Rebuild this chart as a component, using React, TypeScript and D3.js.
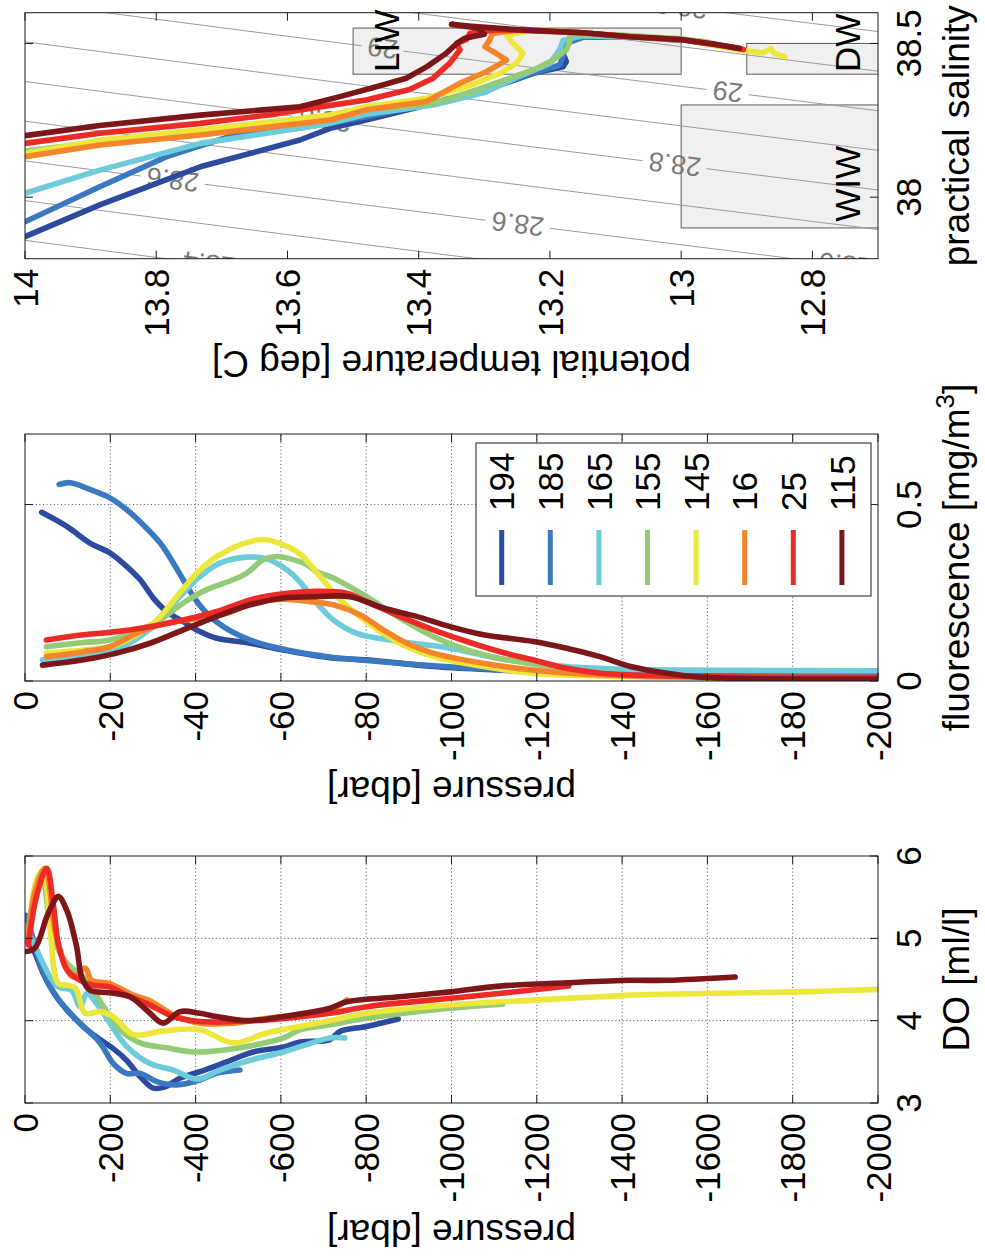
import React from "react";
import * as d3 from "d3";

type Pt = [number, number];

// Original (landscape) figure size; the page shows it rotated 90 deg counter-clockwise.
const FIG_W = 1258;
const FIG_H = 985;

const profileIds = ["194", "185", "165", "155", "145", "16", "25", "115"];
const profileColors = ["#2C4B9F", "#3A78C0", "#6ECCDA", "#93CB76", "#ECE73A", "#F5852A", "#EC2A26", "#7C1619"];

// ---- Dissolved oxygen: [pressure dbar, DO ml/l]
const do194: Pt[] = [[-2, 5.0], [-20, 4.86], [-43, 4.57], [-74, 4.29], [-106, 4.09], [-145, 3.89], [-176, 3.77], [-207, 3.66], [-238, 3.52], [-270, 3.32], [-301, 3.18], [-330, 3.2], [-363, 3.3], [-410, 3.38], [-473, 3.5], [-535, 3.62], [-606, 3.68], [-645, 3.74], [-715, 3.77], [-739, 3.87], [-801, 3.93], [-875, 4.02]];
const do185: Pt[] = [[-2, 5.28], [-20, 4.98], [-35, 4.7], [-59, 4.41], [-98, 4.13], [-137, 3.93], [-176, 3.73], [-207, 3.48], [-238, 3.36], [-270, 3.36], [-309, 3.26], [-356, 3.22], [-410, 3.28], [-449, 3.36], [-504, 3.4]];
const do165: Pt[] = [[-2, 5.13], [-20, 4.95], [-40, 4.72], [-59, 4.53], [-78, 4.41], [-109, 4.37], [-129, 4.17], [-145, 4.33], [-168, 4.21], [-199, 3.97], [-238, 3.69], [-293, 3.48], [-348, 3.4], [-403, 3.29], [-457, 3.4], [-528, 3.52], [-606, 3.62], [-715, 3.79], [-750, 3.79]];
const do155: Pt[] = [[-3, 4.95], [-25, 5.5], [-42, 5.72], [-55, 5.3], [-75, 4.9], [-98, 4.7], [-145, 4.49], [-184, 4.17], [-223, 3.89], [-270, 3.73], [-332, 3.67], [-395, 3.62], [-488, 3.66], [-606, 3.79], [-645, 3.89], [-715, 3.95], [-801, 4.03], [-996, 4.15], [-1120, 4.2]];
const do145: Pt[] = [[-8, 4.94], [-27, 5.71], [-43, 5.83], [-59, 5.1], [-78, 4.45], [-98, 4.43], [-118, 4.4], [-141, 4.09], [-176, 4.11], [-207, 4.05], [-254, 3.83], [-317, 3.87], [-410, 3.89], [-488, 3.73], [-567, 3.85], [-645, 3.93], [-715, 4.0], [-801, 4.09], [-996, 4.19], [-1192, 4.25], [-1348, 4.29], [-1418, 4.31], [-1583, 4.33], [-1817, 4.35], [-2000, 4.38]];
const do16: Pt[] = [[-5, 4.95], [-25, 5.6], [-47, 5.85], [-70, 5.1], [-90, 4.74], [-113, 4.53], [-141, 4.64], [-156, 4.49], [-199, 4.45], [-254, 4.31], [-290, 4.25], [-348, 4.07], [-410, 3.97], [-488, 3.97], [-567, 4.03], [-715, 4.13], [-754, 4.25]];
const do25: Pt[] = [[-8, 4.92], [-27, 5.51], [-51, 5.85], [-66, 5.43], [-78, 4.94], [-98, 4.62], [-129, 4.49], [-160, 4.43], [-199, 4.41], [-238, 4.31], [-285, 4.21], [-348, 4.05], [-410, 3.99], [-488, 3.99], [-567, 4.01], [-715, 4.09], [-801, 4.17], [-1035, 4.29], [-1275, 4.42]];
const do115: Pt[] = [[-2, 4.84], [-23, 4.88], [-51, 5.26], [-66, 5.43], [-78, 5.51], [-98, 5.34], [-121, 4.9], [-133, 4.53], [-152, 4.37], [-199, 4.34], [-246, 4.29], [-285, 4.13], [-324, 3.97], [-363, 4.11], [-410, 4.09], [-449, 4.05], [-520, 4.0], [-606, 4.05], [-715, 4.15], [-754, 4.23], [-879, 4.29], [-996, 4.35], [-1114, 4.42], [-1270, 4.46], [-1418, 4.49], [-1505, 4.49], [-1665, 4.53]];
const doProfiles = [do194, do185, do165, do155, do145, do16, do25, do115];

// ---- Fluorescence: [pressure dbar, fluorescence mg/m^3]
const fl194: Pt[] = [[-3.9, 0.478], [-9.8, 0.438], [-15.2, 0.391], [-19.9, 0.363], [-23.8, 0.325], [-27, 0.287], [-30.1, 0.235], [-33.2, 0.197], [-37.1, 0.168], [-41, 0.14], [-45, 0.121], [-52.8, 0.107], [-60.6, 0.088], [-71.5, 0.066], [-80.1, 0.06], [-95.7, 0.041], [-111, 0.031], [-127, 0.022], [-142, 0.017], [-160, 0.016], [-180, 0.015], [-200, 0.015]];
const fl185: Pt[] = [[-8, 0.557], [-10.6, 0.562], [-15.2, 0.543], [-19.9, 0.519], [-23.8, 0.486], [-27.7, 0.443], [-31.7, 0.391], [-34.8, 0.334], [-37.1, 0.287], [-39.5, 0.239], [-42.6, 0.192], [-46.5, 0.154], [-52.8, 0.116], [-60.6, 0.09], [-71.5, 0.068], [-80, 0.058], [-95.7, 0.043], [-111, 0.032], [-127, 0.024], [-142, 0.02], [-170, 0.018], [-200, 0.018]];
const fl165: Pt[] = [[-4.1, 0.06], [-13.7, 0.069], [-21.5, 0.088], [-27, 0.126], [-31.7, 0.173], [-36.3, 0.239], [-41, 0.296], [-45.7, 0.334], [-52, 0.351], [-56.7, 0.346], [-61.4, 0.315], [-64.5, 0.28], [-68.4, 0.221], [-72.3, 0.173], [-77.8, 0.135], [-87.9, 0.112], [-99.7, 0.093], [-111, 0.064], [-127, 0.041], [-142, 0.033], [-170, 0.03], [-200, 0.029]];
const fl155: Pt[] = [[-5, 0.097], [-13.7, 0.109], [-19.9, 0.116], [-27, 0.145], [-31.7, 0.173], [-37.1, 0.221], [-42.6, 0.259], [-48.8, 0.287], [-52, 0.306], [-55.9, 0.344], [-59, 0.353], [-62.9, 0.344], [-66, 0.33], [-68.4, 0.31], [-72.3, 0.292], [-80.1, 0.239], [-87.9, 0.178], [-95.7, 0.126], [-103.6, 0.088], [-111.4, 0.064], [-123, 0.041], [-135, 0.022], [-150, 0.012], [-200, 0.008]];
const fl145: Pt[] = [[-5, 0.079], [-13.7, 0.088], [-19.9, 0.097], [-25.4, 0.126], [-30.9, 0.173], [-35.6, 0.239], [-40.3, 0.306], [-45, 0.353], [-50.4, 0.386], [-55.9, 0.401], [-60.6, 0.386], [-64.5, 0.36], [-69.2, 0.296], [-73.9, 0.23], [-78.5, 0.183], [-84, 0.135], [-89.5, 0.097], [-95.7, 0.069], [-107.5, 0.041], [-119, 0.022], [-135, 0.014], [-160, 0.01], [-200, 0.009]];
const fl16: Pt[] = [[-5, 0.069], [-13.7, 0.083], [-19.9, 0.097], [-27, 0.14], [-33.2, 0.164], [-41, 0.178], [-47.3, 0.192], [-53.5, 0.221], [-60.6, 0.232], [-66.8, 0.225], [-72.3, 0.216], [-78.5, 0.188], [-84, 0.145], [-89.5, 0.107], [-95.7, 0.079], [-107.5, 0.05], [-119, 0.031], [-135, 0.017], [-150, 0.012], [-200, 0.01]];
const fl25: Pt[] = [[-5, 0.116], [-13.7, 0.131], [-21.5, 0.14], [-29.3, 0.154], [-37.1, 0.173], [-45, 0.197], [-52.8, 0.23], [-60.6, 0.247], [-68.4, 0.254], [-75.4, 0.249], [-80.1, 0.225], [-87.9, 0.183], [-95.7, 0.145], [-103.6, 0.112], [-111.4, 0.083], [-119, 0.06], [-127, 0.036], [-135, 0.022], [-142, 0.017], [-160, 0.012], [-200, 0.01]];
const fl115: Pt[] = [[-4.1, 0.045], [-13.7, 0.06], [-21.5, 0.079], [-29.3, 0.107], [-37.1, 0.145], [-45, 0.183], [-52.8, 0.216], [-60.6, 0.235], [-68.4, 0.239], [-76.2, 0.239], [-84, 0.207], [-91.8, 0.183], [-99.7, 0.154], [-107.5, 0.131], [-119.2, 0.112], [-127, 0.093], [-134.8, 0.069], [-142, 0.041], [-150.5, 0.022], [-158.3, 0.011], [-175, 0.006], [-200, 0.005]];
const flProfiles = [fl194, fl185, fl165, fl155, fl145, fl16, fl25, fl115];

// ---- T-S: [practical salinity, potential temperature]
const ts194: Pt[] = [[37.872, 14.0], [37.975, 13.886], [38.099, 13.733], [38.186, 13.581], [38.224, 13.535], [38.251, 13.48], [38.305, 13.378], [38.365, 13.276], [38.403, 13.225], [38.424, 13.18], [38.441, 13.175], [38.457, 13.178], [38.475, 13.186], [38.49, 13.18], [38.506, 13.18], [38.522, 13.15], [38.52, 13.06], [38.51, 13.0]];
const ts185: Pt[] = [[37.92, 14.0], [38.034, 13.886], [38.132, 13.784], [38.202, 13.682], [38.225, 13.58], [38.262, 13.48], [38.3, 13.39], [38.35, 13.3], [38.4, 13.23], [38.43, 13.185], [38.46, 13.18], [38.5, 13.175], [38.52, 13.15], [38.522, 13.08]];
const ts165: Pt[] = [[38.013, 14.0], [38.088, 13.886], [38.175, 13.733], [38.24, 13.535], [38.27, 13.48], [38.3, 13.378], [38.34, 13.3], [38.39, 13.25], [38.435, 13.2], [38.48, 13.185], [38.51, 13.18], [38.525, 13.15], [38.52, 13.08], [38.512, 13.0], [38.5, 12.95]];
const ts155: Pt[] = [[38.15, 14.0], [38.18, 13.886], [38.21, 13.733], [38.25, 13.56], [38.285, 13.48], [38.305, 13.378], [38.338, 13.327], [38.376, 13.276], [38.414, 13.225], [38.446, 13.195], [38.479, 13.175], [38.506, 13.17], [38.53, 13.17], [38.528, 13.1], [38.515, 13.0], [38.505, 12.96]];
const ts145: Pt[] = [[38.143, 14.0], [38.185, 13.886], [38.219, 13.733], [38.267, 13.535], [38.294, 13.48], [38.322, 13.388], [38.359, 13.327], [38.403, 13.276], [38.435, 13.251], [38.468, 13.241], [38.5, 13.256], [38.527, 13.266], [38.545, 13.22], [38.535, 13.15], [38.522, 13.078], [38.513, 13.0], [38.479, 12.911], [38.47, 12.875], [38.484, 12.863], [38.467, 12.858], [38.457, 12.842]];
const ts16: Pt[] = [[38.132, 14.0], [38.17, 13.886], [38.202, 13.733], [38.251, 13.535], [38.284, 13.48], [38.311, 13.388], [38.371, 13.337], [38.408, 13.297], [38.446, 13.266], [38.468, 13.282], [38.489, 13.299], [38.511, 13.292], [38.533, 13.287], [38.545, 13.24], [38.535, 13.15], [38.522, 13.078], [38.512, 13.0], [38.5, 12.96]];
const ts25: Pt[] = [[38.175, 14.0], [38.208, 13.886], [38.24, 13.733], [38.27, 13.62], [38.284, 13.581], [38.316, 13.48], [38.35, 13.414], [38.387, 13.378], [38.435, 13.353], [38.479, 13.337], [38.5, 13.342], [38.513, 13.327], [38.533, 13.322], [38.545, 13.28], [38.535, 13.15], [38.522, 13.078], [38.513, 13.0], [38.49, 12.93], [38.48, 12.905]];
const ts115: Pt[] = [[38.2, 14.0], [38.233, 13.886], [38.267, 13.733], [38.294, 13.581], [38.327, 13.52], [38.365, 13.455], [38.387, 13.419], [38.424, 13.388], [38.468, 13.358], [38.5, 13.342], [38.517, 13.33], [38.53, 13.3], [38.55, 13.31], [38.562, 13.35], [38.556, 13.32], [38.545, 13.25], [38.535, 13.15], [38.522, 13.078], [38.513, 13.002], [38.498, 12.95], [38.484, 12.911]];
const tsProfiles = [ts194, ts185, ts165, ts155, ts145, ts16, ts25, ts115];

// ---- Axis ticks
const doTicks = [3, 4, 5, 6];
const pressDOTicks = [0, -200, -400, -600, -800, -1000, -1200, -1400, -1600, -1800, -2000];
const fluorTicks = [0, 0.5];
const pressFlTicks = [0, -20, -40, -60, -80, -100, -120, -140, -160, -180, -200];
const salTicks = [38, 38.5];
const tempTicks = [12.8, 13, 13.2, 13.4, 13.6, 13.8, 14];

// ---- Isopycnals (sigma-theta) and their labels
const isoLevels = [28.2, 28.3, 28.4, 28.5, 28.6, 28.7, 28.8, 28.9, 29.0, 29.1, 29.2, 29.3, 29.4];
const isoLabels = [
  { level: 28.6, T: 13.775, text: "28.6" },
  { level: 28.6, T: 13.249, text: "28.6" },
  { level: 28.8, T: 13.543, text: "28.8" },
  { level: 28.8, T: 13.01, text: "28.8" },
  { level: 29.0, T: 13.455, text: "29" },
  { level: 29.0, T: 12.929, text: "29" },
  { level: 28.4, T: 13.72, text: "28.4" },
  { level: 29.2, T: 13.0, text: "29.2" },
  { level: 28.6, T: 12.75, text: "28.6" },
];

// ---- Water-mass boxes
const waterMasses = [
  { name: "LIW", s0: 38.4, s1: 38.55, t0: 13.0, t1: 13.5, ls: 38.407, lt: 13.43 },
  { name: "DW", s0: 38.4, s1: 38.5, t0: 12.5, t1: 12.9, ls: 38.407, lt: 12.727 },
  { name: "WIW", s0: 37.9, s1: 38.3, t0: 12.5, t1: 13.0, ls: 37.92, lt: 12.727 },
];

// UNESCO 1983 one-atmosphere density, minus 1000
function sigmaTheta(S: number, T: number) {
  const rw = 999.842594 + 6.793952e-2 * T - 9.09529e-3 * T * T + 1.001685e-4 * T ** 3 - 1.120083e-6 * T ** 4 + 6.536332e-9 * T ** 5;
  const A = 8.24493e-1 - 4.0899e-3 * T + 7.6438e-5 * T * T - 8.2467e-7 * T ** 3 + 5.3875e-9 * T ** 4;
  const B = -5.72466e-3 + 1.0227e-4 * T - 1.6546e-6 * T * T;
  const C = 4.8314e-4;
  return rw + A * S + B * Math.pow(S, 1.5) + C * S * S - 1000;
}
function salinityFor(level: number, T: number) {
  let lo = 35, hi = 41;
  for (let i = 0; i < 50; i++) {
    const m = (lo + hi) / 2;
    if (sigmaTheta(m, T) < level) lo = m; else hi = m;
  }
  return (lo + hi) / 2;
}

const FONT = "'Liberation Sans', Arial, Helvetica, sans-serif";
const TICK_FS = 35;
const LABEL_FS = 37;
const LW = 5.6;

function textWidth(s: string, fs: number) {
  let w = 0;
  for (const c of s) w += c === "." ? 0.278 : 0.556;
  return w * fs;
}

type Scale = d3.ScaleLinear<number, number>;

function Frame(props: {
  x0: number; x1: number; y0: number; y1: number;
  xs: Scale; ys: Scale; xt: number[]; yt: number[];
}) {
  const { x0, x1, y0, y1, xs, ys, xt, yt } = props;
  const tl = 8;
  const col = "#1a1a1a";
  return (
    <g>
      {xt.map((v, i) => {
        const x = xs(v);
        return (
          <g key={"xt" + i}>
            <line x1={x} x2={x} y1={y0} y2={y0 + tl} stroke={col} strokeWidth={1} />
            <line x1={x} x2={x} y1={y1} y2={y1 - tl} stroke={col} strokeWidth={1} />
            <text x={x} y={921} textAnchor="middle" fontSize={TICK_FS} fill="#000">{String(v)}</text>
          </g>
        );
      })}
      {yt.map((v, i) => {
        const y = ys(v);
        return (
          <g key={"yt" + i}>
            <line x1={x0} x2={x0 + tl} y1={y} y2={y} stroke={col} strokeWidth={1} />
            <line x1={x1} x2={x1 - tl} y1={y} y2={y} stroke={col} strokeWidth={1} />
            <text x={x0 - 10} y={y} dy="0.36em" textAnchor="end" fontSize={TICK_FS} fill="#000">{String(v)}</text>
          </g>
        );
      })}
      <rect x={x0} y={y0} width={x1 - x0} height={y1 - y0} fill="none" stroke={col} strokeWidth={1} />
    </g>
  );
}

function Grid(props: { x0: number; x1: number; y0: number; y1: number; xs: Scale; ys: Scale; xt: number[]; yt: number[] }) {
  const { x0, x1, y0, y1, xs, ys, xt, yt } = props;
  const inside = (p: number, a: number, b: number) => p > a + 1 && p < b - 1;
  return (
    <g stroke="#3a3a3a" strokeWidth={0.9} strokeDasharray="1,2.6">
      {xt.filter((v) => inside(xs(v), x0, x1)).map((v, i) => (
        <line key={"gx" + i} x1={xs(v)} x2={xs(v)} y1={y0} y2={y1} />
      ))}
      {yt.filter((v) => inside(ys(v), y0, y1)).map((v, i) => (
        <line key={"gy" + i} x1={x0} x2={x1} y1={ys(v)} y2={ys(v)} />
      ))}
    </g>
  );
}

export default function App() {
  const Y0 = 25, Y1 = 878;
  // DO panel
  const xDO = d3.scaleLinear().domain([3, 6]).range([155, 402]);
  const yDO = d3.scaleLinear().domain([0, -2000]).range([Y0, Y1]);
  // Fluorescence panel
  const xF = d3.scaleLinear().domain([0, 0.7]).range([577, 824]);
  const yF = d3.scaleLinear().domain([0, -200]).range([Y0, Y1]);
  // T-S panel
  const xS = d3.scaleLinear().domain([37.8, 38.6]).range([999.3, 1245.3]);
  const yT = d3.scaleLinear().domain([12.7, 14]).range([Y1, Y0]);

  const lineDO = d3.line<Pt>().x((d) => xDO(d[1])).y((d) => yDO(d[0])).curve(d3.curveCatmullRom.alpha(0.5));
  const lineF = d3.line<Pt>().x((d) => xF(d[1])).y((d) => yF(d[0])).curve(d3.curveCatmullRom.alpha(0.5));
  const lineTS = d3.line<Pt>().x((d) => xS(d[0])).y((d) => yT(d[1]));

  const tSamples = d3.range(12.4, 14.31, 0.05);
  const isoPaths = isoLevels.map((lv) => lineTS(tSamples.map((t) => [salinityFor(lv, t), t] as Pt)) || "");

  const labelGeo = isoLabels.map((l) => {
    const s = salinityFor(l.level, l.T);
    const a = [xS(salinityFor(l.level, l.T - 0.02)), yT(l.T - 0.02)];
    const b = [xS(salinityFor(l.level, l.T + 0.02)), yT(l.T + 0.02)];
    const ang = (Math.atan2(b[1] - a[1], b[0] - a[0]) * 180) / Math.PI;
    return { x: xS(s), y: yT(l.T), ang, text: l.text, w: textWidth(l.text, 27) + 12 };
  });

  const legX0 = 662, legX1 = 815, legY0 = 476, legY1 = 871;

  return (
    <svg width={985} height={1258} style={{ position: "absolute", left: 0, top: 0, background: "#fff" }} fontFamily={FONT}>
      <defs>
        <clipPath id="clipDO"><rect x={155} y={Y0} width={402 - 155} height={Y1 - Y0} /></clipPath>
        <clipPath id="clipF"><rect x={577} y={Y0} width={824 - 577} height={Y1 - Y0} /></clipPath>
        <clipPath id="clipTS"><rect x={999.3} y={Y0} width={1245.3 - 999.3} height={Y1 - Y0} /></clipPath>
        <mask id="isoMask" maskUnits="userSpaceOnUse" x={0} y={0} width={FIG_W} height={FIG_H}>
          <rect x={0} y={0} width={FIG_W} height={FIG_H} fill="white" />
          {labelGeo.map((l, i) => (
            <rect key={i} x={-l.w / 2} y={-12} width={l.w} height={24} fill="black"
              transform={`translate(${l.x},${l.y}) rotate(${l.ang})`} />
          ))}
        </mask>
      </defs>
      <g transform={`translate(0,${FIG_W}) rotate(-90)`}>
        {/* ============ DO panel ============ */}
        <Grid x0={155} x1={402} y0={Y0} y1={Y1} xs={xDO} ys={yDO} xt={doTicks} yt={pressDOTicks} />
        <g clipPath="url(#clipDO)" fill="none" strokeWidth={LW} strokeLinejoin="round" strokeLinecap="round">
          {doProfiles.map((p, i) => (
            <path key={i} d={lineDO(p) || ""} stroke={profileColors[i]} />
          ))}
        </g>
        <Frame x0={155} x1={402} y0={Y0} y1={Y1} xs={xDO} ys={yDO} xt={doTicks} yt={pressDOTicks} />
        <text x={(155 + 402) / 2} y={969} textAnchor="middle" fontSize={LABEL_FS}>DO [ml/l]</text>
        <text transform={`translate(38,${(Y0 + Y1) / 2}) rotate(-90)`} textAnchor="middle" fontSize={LABEL_FS}>pressure [dbar]</text>

        {/* ============ Fluorescence panel ============ */}
        <Grid x0={577} x1={824} y0={Y0} y1={Y1} xs={xF} ys={yF} xt={fluorTicks} yt={pressFlTicks} />
        <g clipPath="url(#clipF)" fill="none" strokeWidth={LW} strokeLinejoin="round" strokeLinecap="round">
          {flProfiles.map((p, i) => (
            <path key={i} d={lineF(p) || ""} stroke={profileColors[i]} />
          ))}
        </g>
        <Frame x0={577} x1={824} y0={Y0} y1={Y1} xs={xF} ys={yF} xt={fluorTicks} yt={pressFlTicks} />
        <text x={(577 + 824) / 2} y={969} textAnchor="middle" fontSize={LABEL_FS}>
          fluorescence [mg/m<tspan dy={-15} fontSize={26}>3</tspan><tspan dy={15}>]</tspan>
        </text>
        <text transform={`translate(481,${(Y0 + Y1) / 2}) rotate(-90)`} textAnchor="middle" fontSize={LABEL_FS}>pressure [dbar]</text>
        {/* legend */}
        <rect x={legX0} y={legY0} width={legX1 - legX0} height={legY1 - legY0} fill="#fff" stroke="#1a1a1a" strokeWidth={1} />
        {profileIds.map((id, i) => {
          const y = legY0 + 25.7 + i * 48.6;
          return (
            <g key={id}>
              <line x1={673} x2={728} y1={y} y2={y} stroke={profileColors[i]} strokeWidth={5} />
              <text x={747} y={y} dy="0.36em" fontSize={TICK_FS}>{id}</text>
            </g>
          );
        })}

        {/* ============ T-S panel ============ */}
        <g clipPath="url(#clipTS)">
          {waterMasses.map((w) => (
            <rect key={w.name} x={xS(w.s0)} y={yT(w.t1)} width={xS(w.s1) - xS(w.s0)} height={yT(w.t0) - yT(w.t1)}
              fill="#F0F0F0" stroke="#5a5a5a" strokeWidth={1} />
          ))}
          <g mask="url(#isoMask)" fill="none" stroke="#9a9a9a" strokeWidth={1}>
            {isoPaths.map((d, i) => <path key={i} d={d} />)}
          </g>
          {labelGeo.map((l, i) => (
            <text key={i} transform={`translate(${l.x},${l.y}) rotate(${l.ang})`} textAnchor="middle" dy="0.36em"
              fontSize={27} fill="#7a7a7a">{l.text}</text>
          ))}
        </g>
        <g clipPath="url(#clipTS)" fill="none" strokeWidth={LW} strokeLinejoin="round" strokeLinecap="round">
          {tsProfiles.map((p, i) => (
            <path key={i} d={lineTS(p) || ""} stroke={profileColors[i]} />
          ))}
        </g>
        {waterMasses.map((w) => (
          <text key={"l" + w.name} x={xS(w.ls)} y={yT(w.lt)} fontSize={35} fill="#000">{w.name}</text>
        ))}
        <Frame x0={999.3} x1={1245.3} y0={Y0} y1={Y1} xs={xS} ys={yT} xt={salTicks} yt={tempTicks} />
        <text x={(999.3 + 1245.3) / 2} y={969} textAnchor="middle" fontSize={LABEL_FS}>practical salinity</text>
        <text transform={`translate(907,${(Y0 + Y1) / 2}) rotate(-90)`} textAnchor="middle" fontSize={LABEL_FS}>potential temperature [deg C]</text>
      </g>
    </svg>
  );
}
